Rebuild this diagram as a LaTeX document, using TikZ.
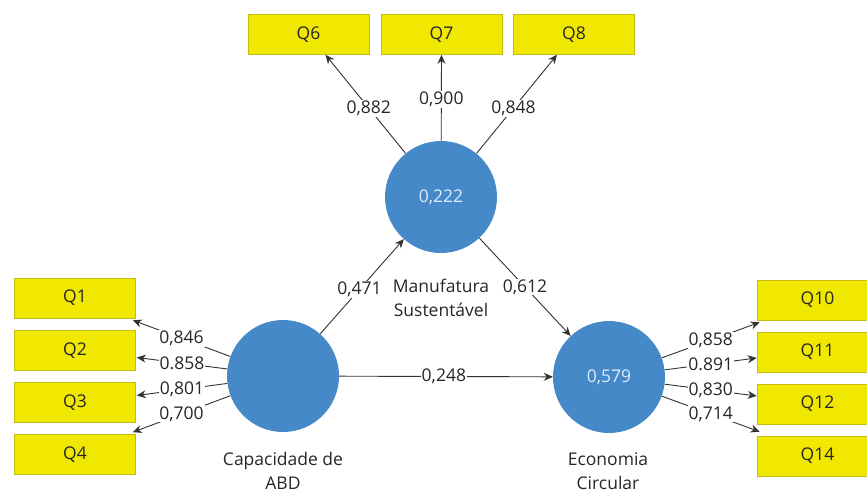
\documentclass[tikz,border=0pt]{standalone}
\usepackage{fontspec}
\setmainfont{Open Sans}
\usetikzlibrary{arrows.meta}
\definecolor{lvblue}{RGB}{70,137,200}
\definecolor{lvtext}{RGB}{222,236,250}
\definecolor{itemfill}{RGB}{240,232,0}
\definecolor{itemdraw}{RGB}{196,188,20}
\definecolor{pathgray}{RGB}{50,50,50}
\tikzset{
  item/.style={rectangle, fill=itemfill, draw=itemdraw, line width=0.6pt,
    minimum width=121pt, minimum height=40pt, inner sep=0pt,
    font=\fontsize{17.5}{20}\selectfont, text=black!85},
  latent/.style={circle, fill=lvblue, minimum size=112pt, inner sep=0pt,
    font=\fontsize{17.5}{20}\selectfont, text=lvtext},
  lvname/.style={align=center, font=\fontsize{17.5}{24}\selectfont, text=black!85},
  coef/.style={fill=white, inner sep=1pt, font=\fontsize{17.5}{20}\selectfont, text=black!85},
  link/.style={draw=pathgray, line width=0.9pt, -{Stealth[length=9pt,width=8pt]}},
}
\begin{document}
\begin{tikzpicture}[x=1pt,y=-1pt]
\path[use as bounding box] (0,0) rectangle (867,493);
\clip (0,0) rectangle (867,493);

% latent variables
\node[latent] (ms)  at (441,197) {0,222};
\node[latent] (abd) at (283,376) {};
\node[latent] (ec)  at (609,377) {0,579};

% names of the latent variables
\node[lvname] at (441,298) {Manufatura\\Sustentável};
\node[lvname] at (283,471) {Capacidade de\\ABD};
\node[lvname] at (608,471) {Economia\\Circular};

% indicators
\node[item] (q6) at (308.5,34.5) {Q6};
\node[item] (q7) at (441.5,34.5) {Q7};
\node[item] (q8) at (574,34.5) {Q8};

\node[item] (q1) at (75,298) {Q1};
\node[item] (q2) at (75,350.5) {Q2};
\node[item] (q3) at (75,402.5) {Q3};
\node[item] (q4) at (75,454.5) {Q4};

\node[item] (q10) at (817.5,300) {Q10};
\node[item] (q11) at (817.5,352) {Q11};
\node[item] (q12) at (817.5,404) {Q12};
\node[item] (q14) at (817.5,456) {Q14};

% outer loadings of Manufatura Sustentavel
\draw[link] (ms) -- node[coef, pos=0.46] {0,882} ([xshift=17pt]q6.south);
\draw[link] (ms) -- node[coef, pos=0.48] {0,900} (q7.south);
\draw[link] (ms) -- node[coef, pos=0.46] {0,848} ([xshift=-17pt]q8.south);

% outer loadings of Capacidade de ABD
\draw[link] (abd) -- node[coef, pos=0.5] {0,846} ([xshift=-3pt,yshift=-2pt]q1.south east);
\draw[link] (abd) -- node[coef, pos=0.5] {0.858} ([xshift=1pt,yshift=-7pt]q2.east);
\draw[link] (abd) -- node[coef, pos=0.5] {0,801} ([xshift=1pt,yshift=7pt]q3.east);
\draw[link] (abd) -- node[coef, pos=0.5] {0,700} ([xshift=-3pt,yshift=2pt]q4.north east);

% outer loadings of Economia Circular
\draw[link] (ec) -- node[coef, pos=0.5] {0,858} ([xshift=3pt,yshift=-2pt]q10.south west);
\draw[link] (ec) -- node[coef, pos=0.5] {0.891} ([yshift=-6pt]q11.west);
\draw[link] (ec) -- node[coef, pos=0.5] {0,830} ([yshift=8pt]q12.west);
\draw[link] (ec) -- node[coef, pos=0.5] {0,714} ([xshift=3pt,yshift=4pt]q14.north west);

% structural paths
\draw[link] (abd) -- node[coef, pos=0.47] {0,471} (ms);
\draw[link] (ms) -- node[coef, pos=0.5] {0,612} (ec);
\draw[link] (abd) -- node[coef, pos=0.49] {0,248} (ec);
\end{tikzpicture}
\end{document}
